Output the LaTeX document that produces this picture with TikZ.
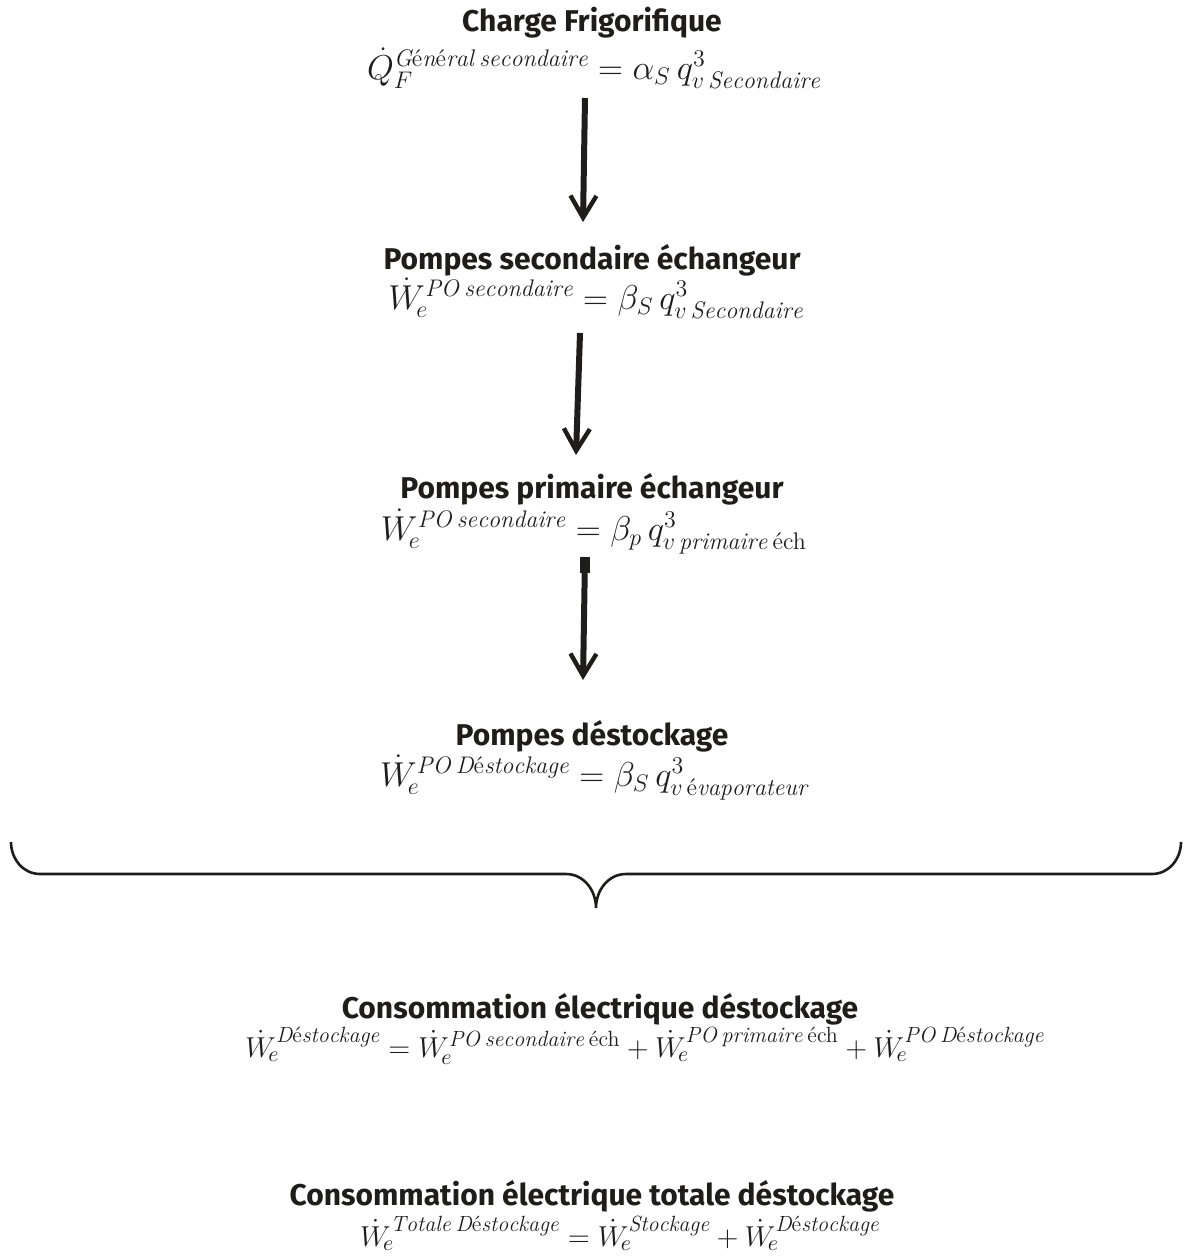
\documentclass[tikz,border=0pt]{standalone}
\usepackage{amsmath}
\usepackage{fontspec}
\setsansfont{Fira Sans}
\usetikzlibrary{arrows.meta, positioning, calc}
\definecolor{inkblack}{rgb}{0.12, 0.11, 0.11}
\DeclareMathSizes{16}{16}{12}{9}
\DeclareMathSizes{14.5}{14.5}{11}{8}
\newcommand{\ea}{\text{\normalfont\upshape é}}
\newcommand{\Wd}{\dot{W}_{\!e}}
\newcommand{\esp}{\mkern4mu}

\begin{document}
\begin{tikzpicture}[x=0.5pt, y=-0.5pt, >={Straight Barb[length=11pt, width=13pt, line width=2.2pt]},
    titre/.style={font=\sffamily\bfseries\fontsize{15}{18}\selectfont, text=inkblack, inner sep=1pt, anchor=base},
    formule/.style={font=\fontsize{16}{19}\selectfont, text=inkblack, inner sep=1pt, anchor=base},
    petite/.style={formule, font=\fontsize{14.5}{17}\selectfont},
    fleche/.style={->, line width=3pt, inkblack}]
        \useasboundingbox (0,0) rectangle (1184,1258);

        % Charge frigorifique
        \node [titre] (t1) at (592,32) {Charge Frigorifique};
        \node [formule] (f1) at (594,79) {$\dot{Q}_F^{\mathit{G}\ea\mathit{n}\ea\mathit{ral}\esp\mathit{secondaire}} = \alpha_S\, q^3_{v\,\mathit{Secondaire}}$};

        % Pompes secondaire
        \node [titre] (t2) at (592,269) {Pompes secondaire échangeur};
        \node [formule] (f2) at (596,309) {$\Wd^{\mathit{PO}\esp\mathit{secondaire}} = \beta_S\, q^3_{v\,\mathit{Secondaire}}$};

        % Pompes primaire
        \node [titre] (t3) at (592,498) {Pompes primaire échangeur};
        \node [formule] (f3) at (594,540) {$\Wd^{\mathit{PO}\esp\mathit{secondaire}} = \beta_p\, q^3_{v\,\mathit{primaire}\esp\text{\normalfont éch}}$};

        % Pompes destockage
        \node [titre] (t4) at (592,745) {Pompes déstockage};
        \node [formule] (f4) at (594,786) {$\Wd^{\mathit{PO}\esp\mathit{D}\ea\mathit{stockage}} = \beta_S\, q^3_{v\,\text{\normalfont é}\mathit{vaporateur}}$};

        % fleches
        \draw [fleche] ($(f1.base)+(-9,19)$) -- ($(t2.base)+(-9,-47)$);
        \draw [fleche] ($(f2.base)+(-16,24)$) -- ($(t3.base)+(-16,-43)$);
        \draw [fleche] ($(f3.base)+(-9,17)$) -- ($(t4.base)+(-9,-65)$);
        \draw [line width=5pt, inkblack] ($(f3.base)+(-9,17)$) -- ++(0,16);

        % accolade
        \coordinate (bg) at (11,842);
        \coordinate (bd) at (1181,842);
        \coordinate (pointe) at (596,908);
        \draw [line width=1.3pt, inkblack] (bg) to [out=-90, in=180] (40,874) -- (566,874)
            to [out=0, in=90] (pointe) to [out=90, in=180] (626,874) -- (1152,874) to [out=0, in=-90] (bd);

        % Consommation destockage
        \node [titre] (t5) at (600,1018) {Consommation électrique déstockage};
        \node [petite] (f5) at (645,1057) {$\Wd^{\mathit{D}\ea\mathit{stockage}} = \Wd^{\mathit{PO}\esp\mathit{secondaire}\esp\text{\normalfont éch}} + \Wd^{\mathit{PO}\esp\mathit{primaire}\esp\text{\normalfont éch}} + \Wd^{\mathit{PO}\esp\mathit{D}\ea\mathit{stockage}}$};

        % Consommation totale
        \node [titre] (t6) at (592,1205) {Consommation électrique totale déstockage};
        \node [petite] (f6) at (620,1246) {$\Wd^{\mathit{Totale}\esp\mathit{D}\ea\mathit{stockage}} = \Wd^{\mathit{Stockage}} + \Wd^{\mathit{D}\ea\mathit{stockage}}$};
\end{tikzpicture}
\end{document}
